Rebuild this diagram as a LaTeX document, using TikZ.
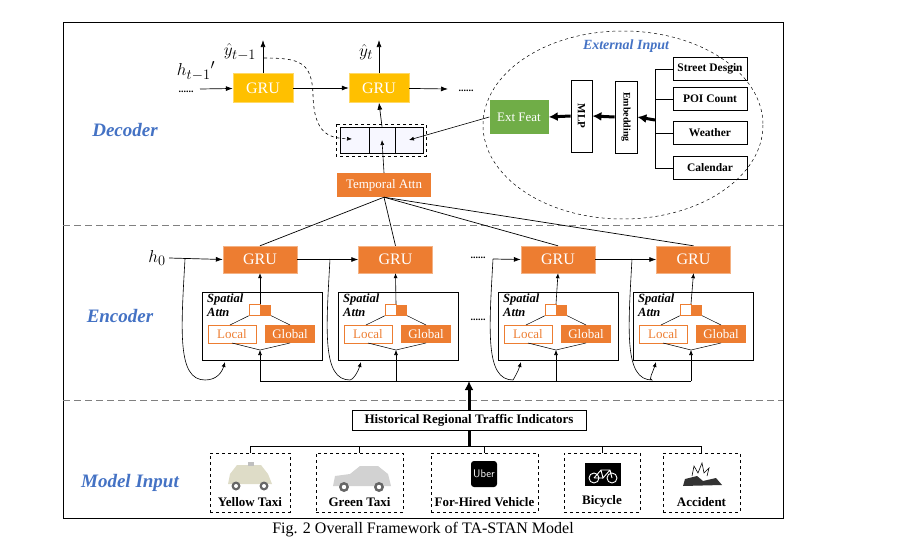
\documentclass[tikz,border=0pt]{standalone}
\usepackage{fontspec}
\setmainfont{Liberation Serif}
\usetikzlibrary{arrows.meta,shapes.geometric}
\definecolor{org}{RGB}{237,125,49}
\definecolor{yel}{RGB}{255,192,0}
\definecolor{grn}{RGB}{112,173,71}
\definecolor{blu}{RGB}{68,114,196}
\begin{document}
\begin{tikzpicture}[x=1pt,y=-1pt,
  ar/.style={-{Latex[length=7pt,width=5pt]},line width=0.7pt},
  sar/.style={-{Latex[length=5pt,width=4pt]},line width=0.6pt},
  tar/.style={-{Latex[length=9pt,width=9pt]},line width=3pt},
  box/.style={draw,line width=0.6pt,inner sep=0pt},
  gruy/.style={fill=yel,draw=yel!60,text=white,minimum width=60pt,minimum height=29pt,inner sep=0pt,font=\fontsize{16}{16}\selectfont},
  gruo/.style={fill=org,draw=org!60,text=white,minimum width=74pt,minimum height=27pt,inner sep=0pt,font=\fontsize{16}{16}\selectfont},
  sec/.style={text=blu,font=\fontsize{19}{19}\selectfont\bfseries\itshape},
  ext/.style={draw,line width=0.8pt,minimum width=74pt,minimum height=23pt,inner sep=0pt,font=\fontsize{11.5}{11.5}\selectfont\bfseries},
  inp/.style={draw,dashed,line width=0.7pt,inner sep=0pt},
  lab/.style={font=\fontsize{13}{13}\selectfont\bfseries},
  mth/.style={font=\fontsize{19}{19}\selectfont}]
\useasboundingbox (0,0) rectangle (908,554);
\draw[line width=0.7pt] (63,22) rectangle (783,518);
\node (cap) at (423,530) {\fontsize{16}{16}\selectfont Fig. 2 Overall Framework of TA-STAN Model};
\draw[dashed,gray,line width=0.8pt,dash pattern=on 7pt off 4pt] (63,225) -- (783,225) (63,400) -- (783,400);
\node[sec] (dec) at (125,130) {Decoder};
\node[sec] (enc) at (120,316) {Encoder};
\node[sec] (min) at (130,483) {Model Input};
% decoder
\node[gruy] (g1) at (263,88) {GRU};
\node[gruy] (g2) at (379,88) {GRU};
\node[mth] (hd) at (196,71) {$h_{t-1}{}'$};
\node (dl) at (186,92) {\bfseries......};
\coordinate (hin) at (200,89);
\draw[ar] (hin) -- (g1);
\draw[ar] (g1) -- (g2);
\coordinate (y1) at (263,40); \coordinate (y2) at (379,40);
\draw[ar] (g1.north) -- (y1);
\draw[ar] (g2.north) -- (y2);
\node[mth] (yh1) at (240,52) {$\hat{y}_{t-1}$};
\node[mth] (yh2) at (366,52) {$\hat{y}_{t}$};
\coordinate (g2o) at (448,89);
\draw[ar] (g2) -- (g2o);
\node (dr) at (466,91) {\bfseries......};
\draw[dashed,line width=0.5pt] (336,124) rectangle (426,156);
\node[box,fill=blue!3,minimum width=29pt,minimum height=26pt] (c1) at (354.5,140) {};
\node[box,fill=blue!3,minimum width=26pt,minimum height=26pt] (c2) at (382,140) {};
\node[box,fill=blue!3,minimum width=28pt,minimum height=26pt] (c3) at (409,140) {};
\draw[dashed,line width=0.6pt,-{Latex[length=5pt,width=4pt]}] (264,58) .. controls (300,58) and (312,62) .. (313,95) .. controls (314,135) and (330,138) .. (352,139);
\draw[ar] (c2.north) -- (g2.south);
\node[fill=org,text=white,minimum width=94pt,minimum height=24pt,inner sep=0pt,font=\fontsize{13}{13}\selectfont] (ta) at (384,185) {Temporal Attn};
\draw[sar] (ta.north) -- (c2.center);
% external input
\draw[dashed,line width=0.5pt] (623,125) ellipse (140 and 94);
\node[text=blu,font=\fontsize{14}{14}\selectfont\bfseries\itshape] (ei) at (626,46) {External Input};
\node[fill=grn,text=white,minimum width=59pt,minimum height=34pt,inner sep=0pt,font=\fontsize{13}{13}\selectfont] (ef) at (519,117) {Ext Feat};
\draw[sar] (ef.west) -- (c3.center);
\node[box,line width=0.8pt,minimum width=21pt,minimum height=72pt] (mlp) at (581.5,116) {};
\node[rotate=-90,font=\fontsize{11}{11}\selectfont\bfseries] (mlpt) at (mlp) {MLP};
\node[box,line width=0.8pt,minimum width=22pt,minimum height=72pt] (emb) at (626,117) {};
\node[rotate=-90,font=\fontsize{10}{10}\selectfont\bfseries] (embt) at (emb) {Embedding};
\draw[tar] (emb.west) -- (mlp.east);
\draw[tar] (mlp.west) -- (ef.east);
\coordinate (bus) at (655,120);
\draw[tar] (bus) -- (emb.east);
\node[ext] (e1) at (710,69) {Street Desgin};
\node[ext] (e2) at (710,99) {POI Count};
\node[ext] (e3) at (710,133) {Weather};
\node[ext] (e4) at (710,168) {Calendar};
\draw[line width=0.6pt] (e1.west) -- (655,69) -- (655,168) -- (e4.west);
\draw[line width=0.6pt] (e2.west) -- (655,99) (e3.west) -- (655,133);
% encoder
\node[gruo] (r1) at (260,259.5) {GRU};
\node[gruo] (r2) at (395.5,259.5) {GRU};
\node[gruo] (r3) at (558,259.5) {GRU};
\node[gruo] (r4) at (693.5,259.5) {GRU};
\node[mth] (h0) at (157,258) {$h_0$};
\draw[ar] (h0.east) -- (r1.west);
\draw[ar] (r1) -- (r2);
\draw[ar] (r3) -- (r4);
\node (d1) at (478,258) {\bfseries......};
\coordinate (r3in) at (493,259);
\draw[ar] (r3in) -- (r3.west);
\node (d2) at (478,320) {\bfseries......};
\foreach \i/\bx/\lx in {1/202/185,2/338/330,3/498/493,4/633/632}{
  \pgfmathsetmacro\cx{\bx+58}
  \node[box,minimum width=120pt,minimum height=68pt,anchor=north west] (sa\i) at (\bx,292) {};
  \node[anchor=north west,align=left,inner sep=0pt,font=\fontsize{12.5}{14}\selectfont\bfseries\itshape] (st\i) at (\bx+5,294) {Spatial\\Attn};
  \node[draw=org,line width=0.6pt,minimum width=11pt,minimum height=11pt,inner sep=0pt] (sw\i) at (\cx-5.5,310) {};
  \node[fill=org,minimum width=11pt,minimum height=11pt,inner sep=0pt] (so\i) at (\cx+5.5,310) {};
  \node[draw=org,line width=0.6pt,text=org,minimum width=48pt,minimum height=18pt,inner sep=0pt,font=\fontsize{13}{13}\selectfont] (lo\i) at (\cx-28,334) {Local};
  \node[fill=org,text=white,minimum width=50pt,minimum height=18pt,inner sep=0pt,font=\fontsize{13}{13}\selectfont] (gl\i) at (\cx+30,334) {Global};
  \draw[line width=0.5pt] (sw\i.south west) -- (\cx-30,325) (so\i.south east) -- (\cx+30,325);
  \draw[line width=0.5pt] (\cx-28,343) -- (\cx,350) -- (\cx+30,343);
  \draw[sar] (\cx,304) -- (r\i.south);
  \draw[sar] (\cx,381) -- (\cx,350);
  \coordinate (lp\i) at (\lx,259);
  \draw[sar] (lp\i) .. controls (\lx-4,330) and (\lx-8,380) .. (\lx+20,380) .. controls (\bx+15,380) and (\bx+20,372) .. (\bx+23,362);
  \draw[line width=0.7pt] (r\i.north) -- (ta.south);
}
\draw[line width=0.7pt] (260,381) -- (691,381);
% model input
\node[box,line width=0.8pt,minimum width=234pt,minimum height=20pt,font=\fontsize{13}{13}\selectfont\bfseries] (hist) at (469,420) {Historical Regional Traffic Indicators};
\draw[tar] (hist.north) -- (469,381);
\draw[line width=3pt] (hist.south) -- (469,446);
\node[inp,minimum width=80pt,minimum height=59pt] (i1) at (250,482.5) {};
\node[inp,minimum width=87pt,minimum height=59pt] (i2) at (359.5,482.5) {};
\node[inp,minimum width=107pt,minimum height=59pt] (i3) at (484.5,482.5) {};
\node[inp,minimum width=76pt,minimum height=59pt] (i4) at (602,482.5) {};
\node[inp,minimum width=77pt,minimum height=59pt] (i5) at (701.5,482.5) {};
\draw[line width=0.8pt] (i1.north) -- (250,446) -- (701.5,446) -- (i5.north);
\foreach \k in {2,3,4}{\draw[line width=0.8pt] (i\k.north) -- (i\k.north |- 0,446);}
\node[lab] (t1) at (250,502) {Yellow Taxi};
\node[lab] (t2) at (359.5,502) {Green Taxi};
\node[lab] (t3) at (484.5,502) {For-Hired Vehicle};
\node[lab] (t4) at (602,501) {Bicycle};
\node[lab] (t5) at (701.5,502) {Accident};
% icons
\fill[yellow!25!gray!40] (228,484) -- (230,474) -- (237,465) -- (261,465) -- (268,474) -- (272,484) -- cycle;
\fill[gray!50] (248,462) rectangle (254,466);
\fill[gray!80!black] (236,486) circle (4.5) (264,486) circle (4.5);
\fill[white] (236,486) circle (2) (264,486) circle (2);
\fill[gray!35] (333,486) -- (335,476) -- (350,474) -- (360,466) -- (378,466) -- (388,474) -- (391,486) -- cycle;
\fill[gray!80!black] (344,487) circle (5) (379,487) circle (5);
\fill[white] (344,487) circle (2.2) (379,487) circle (2.2);
\node[fill=black,text=white,rounded corners=3pt,minimum width=26pt,minimum height=26pt,inner sep=0pt,font=\fontsize{11}{11}\selectfont\sffamily] (ub) at (484,474) {Uber};
\node[fill=black,minimum width=36pt,minimum height=23pt,inner sep=0pt] (bk) at (603,474) {};
\draw[white,line width=0.9pt] (594,478) circle (5) (612,478) circle (5) (594,478) -- (601,470) -- (610,470) -- (612,478) (601,470) -- (603,478) -- (610,470) (603,478) -- (594,478);
\fill[black!80] (683,486) -- (685,479) -- (697,476) -- (703,481) -- (716,478) -- (722,485) -- cycle;
\draw[black,line width=0.6pt] (692,476) -- (694,466) -- (698,473) -- (702,463) -- (704,473) -- (709,468) -- (707,476);
\end{tikzpicture}
\end{document}
